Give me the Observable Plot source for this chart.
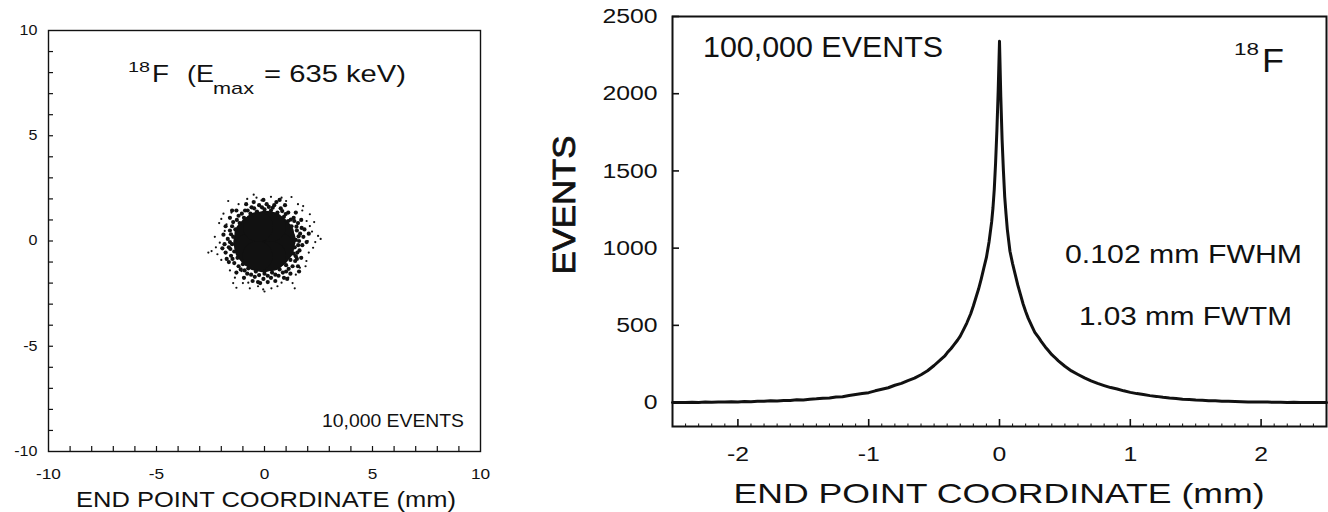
<!DOCTYPE html>
<html><head><meta charset="utf-8">
<script src="https://cdn.jsdelivr.net/npm/d3@7"></script>
<script src="https://cdn.jsdelivr.net/npm/@observablehq/plot@0.6"></script>
<style>
body{margin:0;background:#fff;}
#wrap{position:relative;width:1328px;height:512px;overflow:hidden;background:#fff;}
#left{position:absolute;left:0;top:0;}
#right{position:absolute;left:520px;top:0;}
</style></head>
<body><div id="wrap"><div id="left"></div><div id="right"></div></div>
<script>
// ---------- LEFT PANEL DATA (end point scatter, mm) ----------
const leftTickLabels = [-10, -5, 0, 5, 10];
const leftMinorTicks = [-9,-8,-7,-6,-5,-4,-3,-2,-1,0,1,2,3,4,5,6,7,8,9];
// dense core (drawn as large overlapping dots)
const corePts = [[0,0],[0.4,0.4],[-0.4,0.4],[0.42,-0.45],[-0.45,-0.45],[0.05,0.72],[-0.05,-0.78],[0.75,0.05],[-0.75,-0.05],[0.25,-0.3],[-0.25,0.2],[0.52,0.5],[-0.52,0.5],[0.5,-0.55],[-0.53,-0.55],[0.68,0.32],[-0.7,0.3],[0.68,-0.32],[-0.7,-0.35],[0.3,0.68],[-0.3,0.68],[0.3,-0.72],[-0.32,-0.72]];
// speckled ring around the core
const ringPts = [
[1.3,0.2],[1.4,-0.3],[1.5,0.5],[1.25,0.7],[1.1,0.95],[0.9,1.15],[0.6,1.35],[0.3,1.45],[0.0,1.5],[-0.35,1.4],[-0.65,1.3],[-0.95,1.1],[-1.15,0.85],[-1.35,0.55],[-1.45,0.2],[-1.5,-0.15],[-1.4,-0.5],[-1.25,-0.8],[-1.0,-1.1],[-0.75,-1.3],[-0.4,-1.45],[0.0,-1.55],[0.35,-1.5],[0.7,-1.35],[1.0,-1.15],[1.2,-0.9],[1.35,-0.6],
[1.6,0.0],[1.65,0.35],[1.55,0.85],[1.35,1.1],[1.1,1.35],[0.75,1.55],[0.45,1.7],[0.1,1.75],[-0.25,1.7],[-0.6,1.6],[-0.9,1.45],[-1.2,1.2],[-1.45,0.9],[-1.6,0.5],[-1.7,0.1],[-1.65,-0.3],[-1.55,-0.7],[-1.4,-1.05],[-1.1,-1.35],[-0.8,-1.55],[-0.45,-1.7],[-0.05,-1.8],[0.3,-1.75],[0.65,-1.65],[1.0,-1.45],[1.3,-1.2],[1.5,-0.85],[1.62,-0.45],
[1.8,0.2],[1.75,-0.2],[1.85,0.55],[1.7,1.0],[1.45,1.35],[0.95,1.7],[0.55,1.85],[-0.05,1.95],[-0.5,1.85],[-0.85,1.75],[-1.3,1.45],[-1.6,1.1],[-1.8,0.7],[-1.9,0.3],[-1.85,-0.15],[-1.8,-0.55],[-1.65,-1.0],[-1.3,-1.5],[-0.95,-1.75],[-0.55,-1.9],[-0.2,-2.0],[0.15,-1.95],[0.5,-1.9],[0.9,-1.75],[1.2,-1.55],[1.55,-1.2],[1.7,-0.8],
[1.45,0.05],[1.52,-0.55],[1.38,0.95],[0.82,1.42],[0.2,1.62],[-0.48,1.55],[-1.05,1.3],[-1.5,0.7],[-1.58,-0.38],[-1.2,-1.2],[-0.62,-1.6],[0.15,-1.65],[0.85,-1.5],[1.42,-0.95],[1.72,0.62],[1.95,-0.05],[-1.95,-0.35],[-0.3,-1.95],[0.7,1.95],[-1.5,1.45],[1.6,-1.45],[-1.75,-0.85],[1.05,-1.8],[2.05,0.35],
[1.58,0.22],[1.48,0.68],[1.22,1.02],[0.98,1.28],[0.38,1.58],[-0.12,1.6],[-0.78,1.45],[-1.28,1.0],[-1.55,0.32],[-1.6,-0.05],[-1.48,-0.85],[-0.92,-1.4],[-0.25,-1.62],[0.5,-1.6],[1.12,-1.32],[1.45,-0.72],[1.56,-0.2]
];
// sparse outlying end points
const strayPts = [
[-1.68,1.90],[1.25,2.09],[0.79,2.06],[1.79,1.66],[2.10,1.27],[2.48,0.24],[2.25,-0.32],[2.10,0.71],[-2.45,-0.48],[-2.18,-0.63],[-2.07,-0.08],[-1.84,0.48],[-1.37,-1.74],[-1.30,-2.22],[-0.68,-2.25],[-0.06,-2.30],[0.32,-2.25],[1.40,-2.25],[-0.37,2.06],[-0.14,1.93],[-1.53,1.35],[-1.76,0.79],[1.94,-0.95],[1.64,-1.27],[1.10,-1.74],[0.79,-1.98],[-0.75,-1.98],[-1.06,-1.43],
[2.0,0.0],[2.2,0.45],[2.35,-0.05],[1.95,0.95],[2.05,-0.55],[1.9,-1.2],[1.45,-1.6],[0.6,-2.15],[-0.3,-2.15],[-1.0,-2.0],[-1.6,-1.4],[-2.0,-0.9],[-2.25,-0.3],[-2.3,0.2],[-2.1,0.85],[-1.9,1.3],[-1.2,1.75],[-0.8,2.0],[0.3,2.1],[1.0,1.9],[1.55,1.75],[1.3,-2.0],[-2.6,-0.55],[2.6,0.1],[0.0,-2.4],[-1.45,-2.0],[1.75,1.45],[-2.0,1.05],[2.3,0.9],[-0.5,2.2]
];

// ---------- RIGHT PANEL DATA (histogram of end point coordinate) ----------
const rightXTicks = [-2, -1, 0, 1, 2];
const rightYTicks = [0, 500, 1000, 1500, 2000, 2500];
const rightMinorX = [-2.4,-2.3,-2.2,-2.1,-1.9,-1.8,-1.7,-1.6,-1.5,-1.4,-1.3,-1.2,-1.1,-0.9,-0.8,-0.7,-0.6,-0.5,-0.4,-0.3,-0.2,-0.1,0.1,0.2,0.3,0.4,0.5,0.6,0.7,0.8,0.9,1.1,1.2,1.3,1.4,1.5,1.6,1.7,1.8,1.9,2.1,2.2,2.3,2.4];
const histX = [-2.50,-2.45,-2.40,-2.35,-2.30,-2.25,-2.20,-2.15,-2.10,-2.05,-2.00,-1.95,-1.90,-1.85,-1.80,-1.75,-1.70,-1.65,-1.60,-1.55,-1.50,-1.45,-1.40,-1.35,-1.30,-1.25,-1.20,-1.15,-1.10,-1.05,-1.00,-0.95,-0.90,-0.85,-0.80,-0.75,-0.70,-0.65,-0.60,-0.55,-0.50,-0.45,-0.42,-0.40,-0.37,-0.35,-0.32,-0.30,-0.27,-0.25,-0.22,-0.20,-0.18,-0.16,-0.14,-0.12,-0.10,-0.08,-0.06,-0.05,-0.04,-0.03,-0.02,-0.01,0.00,0.01,0.02,0.03,0.04,0.05,0.06,0.08,0.10,0.12,0.14,0.16,0.18,0.20,0.22,0.25,0.27,0.30,0.32,0.35,0.37,0.40,0.42,0.45,0.50,0.55,0.60,0.65,0.70,0.75,0.80,0.85,0.90,0.95,1.00,1.05,1.10,1.15,1.20,1.25,1.30,1.35,1.40,1.45,1.50,1.55,1.60,1.65,1.70,1.75,1.80,1.85,1.90,1.95,2.00,2.05,2.10,2.15,2.20,2.25,2.30,2.35,2.40,2.45,2.50];
const histY = [0,1,0,2,1,3,2,4,3,5,4,7,6,9,8,12,10,14,13,18,17,22,24,28,30,36,38,46,52,58,64,76,86,96,112,124,142,158,180,206,240,278,300,322,350,372,405,430,480,515,575,625,680,735,800,870,940,1040,1170,1260,1380,1550,1760,2020,2340,1980,1700,1500,1330,1220,1120,980,900,830,760,700,640,590,545,490,455,420,395,360,340,310,295,270,235,205,182,160,140,124,110,97,88,76,66,58,52,45,40,34,30,27,22,20,16,15,12,11,9,8,7,6,4,4,3,3,2,2,1,2,1,0,1,0,0];

const INK = "#111";
const FONT = "'Liberation Sans', Arial, Helvetica, sans-serif";
const toObj = a => a.map(([x, y]) => ({x, y}));
const fmt = d => String(d);

// ---------- LEFT PLOT ----------
const leftPlot = Plot.plot({
  width: 520, height: 512,
  marginLeft: 48, marginRight: 40, marginTop: 30, marginBottom: 61,
  style: {fontFamily: FONT, background: "white", color: INK, overflow: "visible"},
  x: {domain: [-10, 10], label: null, axis: null},
  y: {domain: [-10, 10], label: null, axis: null},
  marks: [
    Plot.dot(toObj(corePts), {x: "x", y: "y", r: 15, fill: INK, stroke: null}),
    Plot.dot(toObj(ringPts), {x: "x", y: "y", r: 2.1, fill: INK, stroke: null}),
    Plot.dot(toObj(strayPts), {x: "x", y: "y", r: 1.1, fill: INK, stroke: null}),
    Plot.frame({stroke: INK, strokeWidth: 1.4}),
    Plot.axisX(leftMinorTicks, {tickSize: -5, text: null, stroke: INK, strokeWidth: 1.2}),
    Plot.axisY(leftMinorTicks, {tickSize: -5, text: null, stroke: INK, strokeWidth: 1.2}),
    Plot.axisX(leftTickLabels, {tickSize: 0, tickPadding: 17, fontSize: 15, tickFormat: fmt, fill: INK}),
    Plot.axisY(leftTickLabels, {tickSize: 0, tickPadding: 11, fontSize: 14, tickFormat: fmt, fill: INK})
  ]
});

// ---------- RIGHT PLOT ----------
const histData = histX.map((x, i) => ({x, y: histY[i]}));
const rightPlot = Plot.plot({
  width: 808, height: 512,
  marginLeft: 152, marginRight: 2, marginTop: 16, marginBottom: 86,
  style: {fontFamily: FONT, background: "white", color: INK, overflow: "visible"},
  x: {domain: [-2.5, 2.5], label: null, axis: null},
  y: {domain: [-155, 2500], label: null, axis: null},
  marks: [
    Plot.line(histData, {x: "x", y: "y", stroke: INK, strokeWidth: 3, strokeLinejoin: "round"}),
    Plot.frame({stroke: INK, strokeWidth: 2}),
    Plot.axisY(rightYTicks, {tickSize: -7, text: null, stroke: INK, strokeWidth: 1.6}),
    Plot.axisX(rightXTicks, {tickSize: -7, text: null, stroke: INK, strokeWidth: 1.6}),
    Plot.axisX(rightMinorX, {tickSize: -2.5, text: null, stroke: INK, strokeWidth: 1}),
    Plot.axisY(rightYTicks, {tickSize: 0, tickPadding: 15, fontSize: 21, tickFormat: fmt, fill: INK}),
    Plot.axisX(rightXTicks, {tickSize: 0, tickPadding: 20, fontSize: 21, tickFormat: fmt, fill: INK})
  ]
});

document.getElementById("left").appendChild(leftPlot);
document.getElementById("right").appendChild(rightPlot);

// horizontal stretch of the tick labels, as in the (widened) original
function stretch(svg, k) {
  svg.querySelectorAll("text").forEach(t => {
    const ax = parseFloat(t.getAttribute("x")) || 0;
    const tr = t.getAttribute("transform") || "";
    t.setAttribute("transform", `${tr} translate(${ax},0) scale(${k},1) translate(${-ax},0)`);
  });
}
stretch(leftPlot, 1.15);
stretch(rightPlot, 1.18);

// annotations (pixel layout inside each panel)
function addText(svg, o) {
  const t = d3.select(svg).append("text")
    .attr("x", o.x).attr("y", o.y)
    .attr("font-family", FONT).attr("font-size", o.size)
    .attr("fill", INK).attr("text-anchor", o.anchor || "start")
    .text(o.text);
  if (o.width) t.attr("textLength", o.width).attr("lengthAdjust", "spacingAndGlyphs");
  if (o.rotate) t.attr("transform", `rotate(${o.rotate},${o.x},${o.y})`);
  if (o.bold) t.attr("stroke", INK).attr("stroke-width", o.bold);
  return t;
}
const leftNotes = [
  {text: "18", x: 128, y: 72, size: 15, width: 22},
  {text: "F", x: 152, y: 82, size: 24, width: 17},
  {text: "(E", x: 187, y: 82, size: 24, width: 27},
  {text: "max", x: 213, y: 94, size: 17, width: 41},
  {text: "= 635 keV)", x: 264, y: 82, size: 24, width: 142},
  {text: "10,000 EVENTS", x: 322, y: 427, size: 18, width: 142},
  {text: "END POINT COORDINATE (mm)", x: 266, y: 507, size: 22, width: 380, anchor: "middle"}
];
const rightNotes = [
  {text: "100,000 EVENTS", x: 183, y: 57, size: 29, width: 240},
  {text: "18", x: 714, y: 55, size: 17, width: 25},
  {text: "F", x: 742, y: 72, size: 34, width: 22},
  {text: "0.102 mm FWHM", x: 545, y: 263, size: 25, width: 237},
  {text: "1.03 mm FWTM", x: 559, y: 325, size: 25, width: 213},
  {text: "END POINT COORDINATE (mm)", x: 479, y: 503, size: 28, width: 531, anchor: "middle"},
  {text: "EVENTS", x: 55, y: 205, size: 31, width: 139, anchor: "middle", rotate: -90, bold: 0.8}
];
leftNotes.forEach(o => addText(leftPlot, o));
rightNotes.forEach(o => addText(rightPlot, o));
</script>
</body></html>
